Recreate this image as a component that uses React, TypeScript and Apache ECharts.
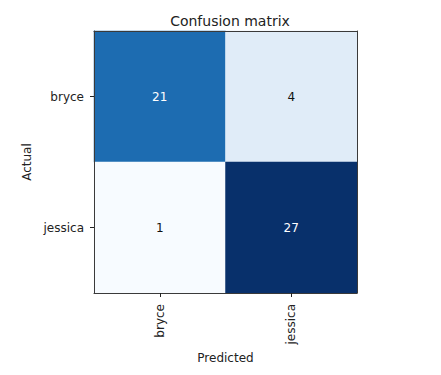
import React, { useEffect, useRef } from "react";
import * as echarts from "echarts";

const predictedLabels = ["bryce", "jessica"];
const actualLabels = ["bryce", "jessica"];
// rows: actual, cols: predicted
const matrixValues = [
  [21, 4],
  [1, 27],
];
const blues = ["#f7fbff", "#deebf7", "#c6dbef", "#9ecae1", "#6baed6", "#4292c6", "#2171b5", "#08519c", "#08306b"];

const FONT = "DejaVu Sans";

export default function App() {
  const ref = useRef<HTMLDivElement>(null);
  useEffect(() => {
    if (!ref.current) return;
    const chart = echarts.init(ref.current, undefined, { renderer: "svg" });
    const vmin = Math.min(...matrixValues.flat());
    const vmax = Math.max(...matrixValues.flat());
    const thresh = (vmin + vmax) / 2;
    const data: any[] = [];
    matrixValues.forEach((row, r) => {
      row.forEach((v, c) => {
        data.push({
          value: [c, r, v],
          label: { color: v > thresh ? "#ffffff" : "#111111" },
        });
      });
    });
    const frameColor = "#3a3a3a";
    chart.setOption({
      animation: false,
      textStyle: { fontFamily: FONT },
      title: {
        text: "Confusion matrix",
        left: 225,
        top: 9,
        textAlign: "center",
        textStyle: { fontFamily: FONT, fontSize: 14, fontWeight: "normal", color: "#222" },
      },
      grid: { left: 94, top: 31, width: 263, height: 262, containLabel: false },
      visualMap: {
        show: false,
        min: vmin,
        max: vmax,
        dimension: 2,
        inRange: { color: blues },
      },
      xAxis: [
        {
          type: "category",
          data: predictedLabels,
          position: "bottom",
          z: 5,
          name: "Predicted",
          nameLocation: "middle",
          nameGap: 54,
          nameTextStyle: { fontFamily: FONT, fontSize: 12, color: "#222" },
          axisLine: { show: true, lineStyle: { color: frameColor, width: 1 } },
          axisTick: { show: true, alignWithLabel: true, length: 4, lineStyle: { color: "#222" } },
          axisLabel: { rotate: 90, margin: 11, fontFamily: FONT, fontSize: 12, color: "#222" },
          splitLine: { show: false },
        },
        {
          type: "category",
          data: predictedLabels,
          position: "top",
          z: 5,
          axisLine: { show: true, onZero: false, lineStyle: { color: frameColor, width: 1 } },
          axisTick: { show: false },
          axisLabel: { show: false },
        },
      ],
      yAxis: [
        {
          type: "category",
          data: actualLabels,
          inverse: true,
          position: "left",
          z: 5,
          name: "Actual",
          nameLocation: "middle",
          nameGap: 58,
          nameRotate: 90,
          nameTextStyle: { fontFamily: FONT, fontSize: 12, color: "#222" },
          axisLine: { show: true, lineStyle: { color: frameColor, width: 1 } },
          axisTick: { show: true, alignWithLabel: true, length: 4, lineStyle: { color: "#222" } },
          axisLabel: { margin: 10, fontFamily: FONT, fontSize: 12, color: "#222" },
          splitLine: { show: false },
        },
        {
          type: "category",
          data: actualLabels,
          inverse: true,
          position: "right",
          z: 5,
          axisLine: { show: true, onZero: false, lineStyle: { color: frameColor, width: 1 } },
          axisTick: { show: false },
          axisLabel: { show: false },
        },
      ],
      series: [
        {
          type: "heatmap",
          xAxisIndex: 0,
          yAxisIndex: 0,
          data,
          z: 1,
          label: {
            show: true,
            fontFamily: FONT,
            fontSize: 12,
            formatter: (p: any) => String(p.value[2]),
          },
          itemStyle: { borderWidth: 0 },
          emphasis: { disabled: true },
        },
      ],
    });
    return () => chart.dispose();
  }, []);
  return (
    <div
      ref={ref}
      style={{ position: "absolute", left: 0, top: 0, width: 441, height: 375, background: "#fff" }}
    />
  );
}
